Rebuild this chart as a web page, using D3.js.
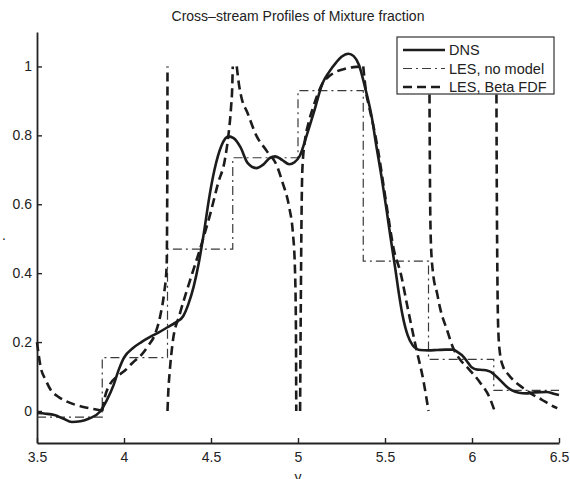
<!DOCTYPE html>
<html lang="en">
<head>
<meta charset="UTF-8">
<title>Cross-stream Profiles of Mixture fraction</title>
<script src="https://d3js.org/d3.v7.min.js"></script>
<style>
  body { margin: 0; background: #fff; }
  text { font-family: "Liberation Sans", Arial, Helvetica, sans-serif; fill: #222; }
</style>
</head>
<body>
<div id="wrapper"></div>

<script>
// ---- data ----
const xTicks = [3.5, 4, 4.5, 5, 5.5, 6, 6.5];
const yTicks = [0, 0.2, 0.4, 0.6, 0.8, 1];

// DNS profile (solid)
const dns = [
  [3.50,-0.006],[3.55,-0.008],[3.60,-0.012],[3.65,-0.022],[3.70,-0.032],[3.75,-0.030],
  [3.80,-0.022],[3.86,-0.003],[3.90,0.03],[3.94,0.075],[3.97,0.12],[4.00,0.155],
  [4.05,0.182],[4.10,0.200],[4.15,0.215],[4.20,0.228],[4.25,0.243],[4.30,0.258],
  [4.34,0.275],[4.37,0.31],[4.40,0.36],[4.43,0.43],[4.46,0.52],[4.49,0.62],
  [4.52,0.70],[4.56,0.77],[4.60,0.797],[4.63,0.792],[4.67,0.765],[4.71,0.72],
  [4.76,0.705],[4.80,0.715],[4.84,0.735],[4.87,0.739],[4.91,0.728],[4.95,0.716],
  [4.98,0.722],[5.01,0.74],[5.05,0.80],[5.09,0.865],[5.14,0.95],[5.18,0.985],
  [5.22,1.012],[5.25,1.028],[5.29,1.037],[5.32,1.03],[5.35,1.005],[5.385,0.94],
  [5.425,0.85],[5.45,0.77],[5.48,0.68],[5.51,0.58],[5.53,0.51],[5.56,0.41],
  [5.58,0.34],[5.60,0.28],[5.63,0.22],[5.66,0.19],[5.70,0.177],[5.75,0.176],
  [5.80,0.177],[5.85,0.178],[5.89,0.178],[5.92,0.17],[5.95,0.158],[5.98,0.138],
  [6.00,0.126],[6.03,0.12],[6.06,0.119],[6.09,0.117],[6.11,0.113],[6.14,0.10],
  [6.17,0.085],[6.20,0.07],[6.23,0.06],[6.27,0.053],[6.31,0.051],[6.36,0.054],
  [6.43,0.055],[6.47,0.05],[6.50,0.046]
];

// LES, no model (cell averages, dash-dot staircase)
const cellEdges = [3.5, 3.875, 4.25, 4.625, 5.0, 5.375, 5.75, 6.125, 6.5];
const noModel = [-0.018, 0.155, 0.47, 0.735, 0.93, 0.435, 0.15, 0.06];

// LES, Beta FDF (one curve per cell, dashed)
const betaCells = [
  [[3.5,0.2],[3.52,0.13],[3.55,0.09],[3.58,0.06],[3.62,0.042],[3.66,0.03],[3.72,0.018],
   [3.78,0.01],[3.84,0.004],[3.875,0.0]],
  [[3.875,0.0],[3.89,0.04],[3.92,0.078],[3.96,0.1],[4.0,0.115],[4.05,0.14],[4.10,0.163],
   [4.14,0.19],[4.18,0.225],[4.21,0.28],[4.23,0.34],[4.245,0.42],[4.249,0.7],[4.25,1.0]],
  [[4.25,0.0],[4.255,0.06],[4.262,0.11],[4.28,0.2],[4.32,0.28],[4.38,0.38],[4.44,0.475],
   [4.50,0.58],[4.54,0.66],[4.58,0.73],[4.60,0.8],[4.615,0.88],[4.622,0.94],[4.625,1.0]],
  [[4.648,1.0],[4.66,0.95],[4.675,0.91],[4.71,0.865],[4.76,0.80],[4.82,0.755],[4.88,0.71],
   [4.91,0.665],[4.95,0.59],[4.97,0.52],[4.982,0.42],[4.988,0.25],[4.99,0.0]],
  [[5.012,0.0],[5.016,0.3],[5.02,0.55],[5.025,0.7],[5.04,0.785],[5.06,0.835],[5.086,0.88],
   [5.11,0.915],[5.14,0.95],[5.18,0.972],[5.22,0.985],[5.27,0.993],[5.32,0.998],[5.37,1.0]],
  [[5.375,1.0],[5.39,0.93],[5.41,0.88],[5.43,0.835],[5.46,0.757],[5.49,0.66],[5.52,0.56],
   [5.55,0.47],[5.59,0.40],[5.63,0.30],[5.68,0.18],[5.72,0.09],[5.75,0.0]],
  [[5.755,1.0],[5.758,0.7],[5.763,0.5],[5.776,0.40],[5.80,0.34],[5.816,0.30],[5.86,0.23],
   [5.89,0.185],[5.93,0.15],[5.97,0.128],[6.05,0.08],[6.10,0.04],[6.13,0.0]],
  [[6.14,1.0],[6.142,0.7],[6.145,0.45],[6.15,0.25],[6.16,0.17],[6.18,0.127],[6.21,0.105],
   [6.24,0.088],[6.29,0.068],[6.34,0.05],[6.40,0.033],[6.45,0.018],[6.49,0.008]]
];

const legendItems = [
  {label: "DNS", dash: null, width: 2.6, color: "#1c1c1c"},
  {label: "LES, no model", dash: "9,4,2,4", width: 1.2, color: "#3a3a3a"},
  {label: "LES, Beta FDF", dash: "9,5", width: 2.6, color: "#1c1c1c"}
];

// ---- layout ----
const W = 570, H = 479;
const plot = {left: 37, right: 559, top: 32, bottom: 443};

const svg = d3.select("#wrapper")
  .append("svg")
    .attr("width", W)
    .attr("height", H);

const x = d3.scaleLinear().domain([3.5, 6.5]).range([plot.left, plot.right]);
const y = d3.scaleLinear().domain([-0.093, 1.1]).range([plot.bottom, plot.top]);

// title
svg.append("text")
  .attr("x", (plot.left + plot.right) / 2)
  .attr("y", 21)
  .attr("text-anchor", "middle")
  .style("font-size", "14px")
  .text("Cross\u2013stream Profiles of Mixture fraction");

// x axis (ticks point inward)
const gx = svg.append("g")
  .attr("transform", `translate(0,${plot.bottom})`)
  .call(d3.axisBottom(x).tickValues(xTicks).tickFormat(d3.format("~g"))
    .tickSizeInner(-5).tickSizeOuter(0).tickPadding(9));

// y axis
const gy = svg.append("g")
  .attr("transform", `translate(${plot.left},0)`)
  .call(d3.axisLeft(y).tickValues(yTicks).tickFormat(d3.format("~g"))
    .tickSizeInner(-5).tickSizeOuter(0).tickPadding(5));

[gx, gy].forEach(g => {
  g.select(".domain").attr("stroke", "#222").attr("stroke-width", 1.8);
  g.selectAll(".tick line").attr("stroke", "#222").attr("stroke-width", 1.4);
  g.selectAll(".tick text").style("font-size", "14px").attr("fill", "#222")
    .style("font-family", "'Liberation Sans', Arial, sans-serif");
});

// axis labels
svg.append("text")
  .attr("x", (plot.left + plot.right) / 2)
  .attr("y", 482)
  .attr("text-anchor", "middle")
  .style("font-size", "14px")
  .text("y");

svg.append("text")
  .attr("x", 2)
  .attr("y", 240)
  .style("font-size", "14px")
  .text(".");

// lines
const line = d3.line()
  .x(d => x(d[0]))
  .y(d => y(d[1]))
  .curve(d3.curveMonotoneX);

// dash-dot staircase
const steps = noModel.map((v, i) => [cellEdges[i], v]);
steps.push([cellEdges[cellEdges.length - 1], noModel[noModel.length - 1]]);

svg.append("path")
  .datum(steps)
  .attr("fill", "none")
  .attr("stroke", legendItems[1].color)
  .attr("stroke-width", legendItems[1].width)
  .attr("stroke-dasharray", legendItems[1].dash)
  .attr("d", d3.line().x(d => x(d[0])).y(d => y(d[1])).curve(d3.curveStepAfter));

// beta fdf cells
svg.append("g")
  .selectAll("path")
  .data(betaCells)
  .join("path")
    .attr("fill", "none")
    .attr("stroke", legendItems[2].color)
    .attr("stroke-width", legendItems[2].width)
    .attr("stroke-dasharray", legendItems[2].dash)
    .attr("d", line);

// DNS
svg.append("path")
  .datum(dns)
  .attr("fill", "none")
  .attr("stroke", legendItems[0].color)
  .attr("stroke-width", legendItems[0].width)
  .attr("stroke-linejoin", "round")
  .attr("d", line);

// legend
const lg = svg.append("g").attr("transform", "translate(397,37)");
lg.append("rect")
  .attr("width", 157).attr("height", 57)
  .attr("fill", "#fff").attr("stroke", "#333").attr("stroke-width", 1.2);

const rows = lg.selectAll("g.row")
  .data(legendItems)
  .join("g")
    .attr("class", "row")
    .attr("transform", (d, i) => `translate(0,${13 + i * 18.5})`);

rows.append("line")
  .attr("x1", 6).attr("x2", 48)
  .attr("stroke", d => d.color)
  .attr("stroke-width", d => d.width)
  .attr("stroke-dasharray", d => d.dash);

rows.append("text")
  .attr("x", 52)
  .attr("dy", "0.35em")
  .style("font-size", "14.5px")
  .text(d => d.label);
</script>
</body>
</html>
